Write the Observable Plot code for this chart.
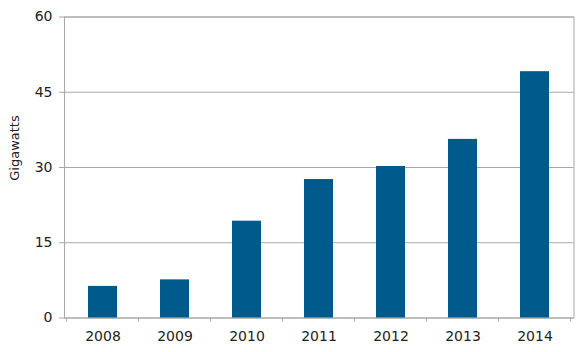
<!DOCTYPE html>
<html>
<head>
<meta charset="utf-8">
<script src="https://cdn.jsdelivr.net/npm/d3@7"></script>
<script src="https://cdn.jsdelivr.net/npm/@observablehq/plot@0.6"></script>
<style>
  html, body { margin: 0; padding: 0; background: #fff; }
  svg { display: block; }
</style>
</head>
<body>
<div id="chart"></div>
<script>
const years = ["2008", "2009", "2010", "2011", "2012", "2013", "2014"];
const gigawatts = [6.3, 7.6, 19.3, 27.6, 30.2, 35.6, 49.1];
const yTicks = [0, 15, 30, 45, 60];
const yLabel = "Gigawatts";

const data = years.map((y, i) => ({year: y, value: gigawatts[i]}));
const gridColor = "#a8a8a8";
const textColor = "#222";

const plot = Plot.plot({
  width: 584,
  height: 352,
  marginLeft: 64,
  marginRight: 10.5,
  marginTop: 16.5,
  marginBottom: 34.5,
  style: {fontFamily: "DejaVu Sans", fontSize: "14px", color: textColor, background: "#fff"},
  x: {domain: years, paddingInner: 0.6, paddingOuter: 0.3, label: null},
  y: {domain: [0, 60], label: null},
  marks: [
    Plot.ruleY(yTicks, {stroke: gridColor, strokeWidth: 1}),
    Plot.frame({stroke: gridColor}),
    Plot.barY(data, {x: "year", y: "value", fill: "#005a8c"}),
    Plot.axisY({ticks: yTicks, tickSize: 5, tickPadding: 7, stroke: gridColor, fill: textColor, fontSize: 14, label: null}),
    Plot.axisX({tickSize: 0, tickPadding: 13.5, fill: textColor, fontSize: 14, label: null}),
    Plot.text([yLabel], {frameAnchor: "left", textAnchor: "middle", rotate: -90, dx: -50, dy: -19.5, fontSize: 13, fill: textColor, fontFamily: "DejaVu Sans"})
  ]
});

// band-boundary tick marks under the x axis, positioned via the plot's own x scale
const sx = plot.scale("x");
const sy = plot.scale("y");
const svg = d3.select(plot.tagName.toLowerCase() === "svg" ? plot : plot.querySelector("svg"));
const gap = sx.step * sx.paddingInner / 2;
const bounds = years.map(y => sx.apply(y) - gap);
bounds.push(sx.apply(years[years.length - 1]) + sx.bandwidth + gap);
const y0 = sy.apply(0);
const g = svg.append("g").attr("stroke", gridColor).attr("stroke-width", 1);
bounds.forEach(bx => {
  g.append("line").attr("x1", bx).attr("x2", bx).attr("y1", y0).attr("y2", y0 + 4);
});

document.getElementById("chart").appendChild(plot);
</script>
</body>
</html>
